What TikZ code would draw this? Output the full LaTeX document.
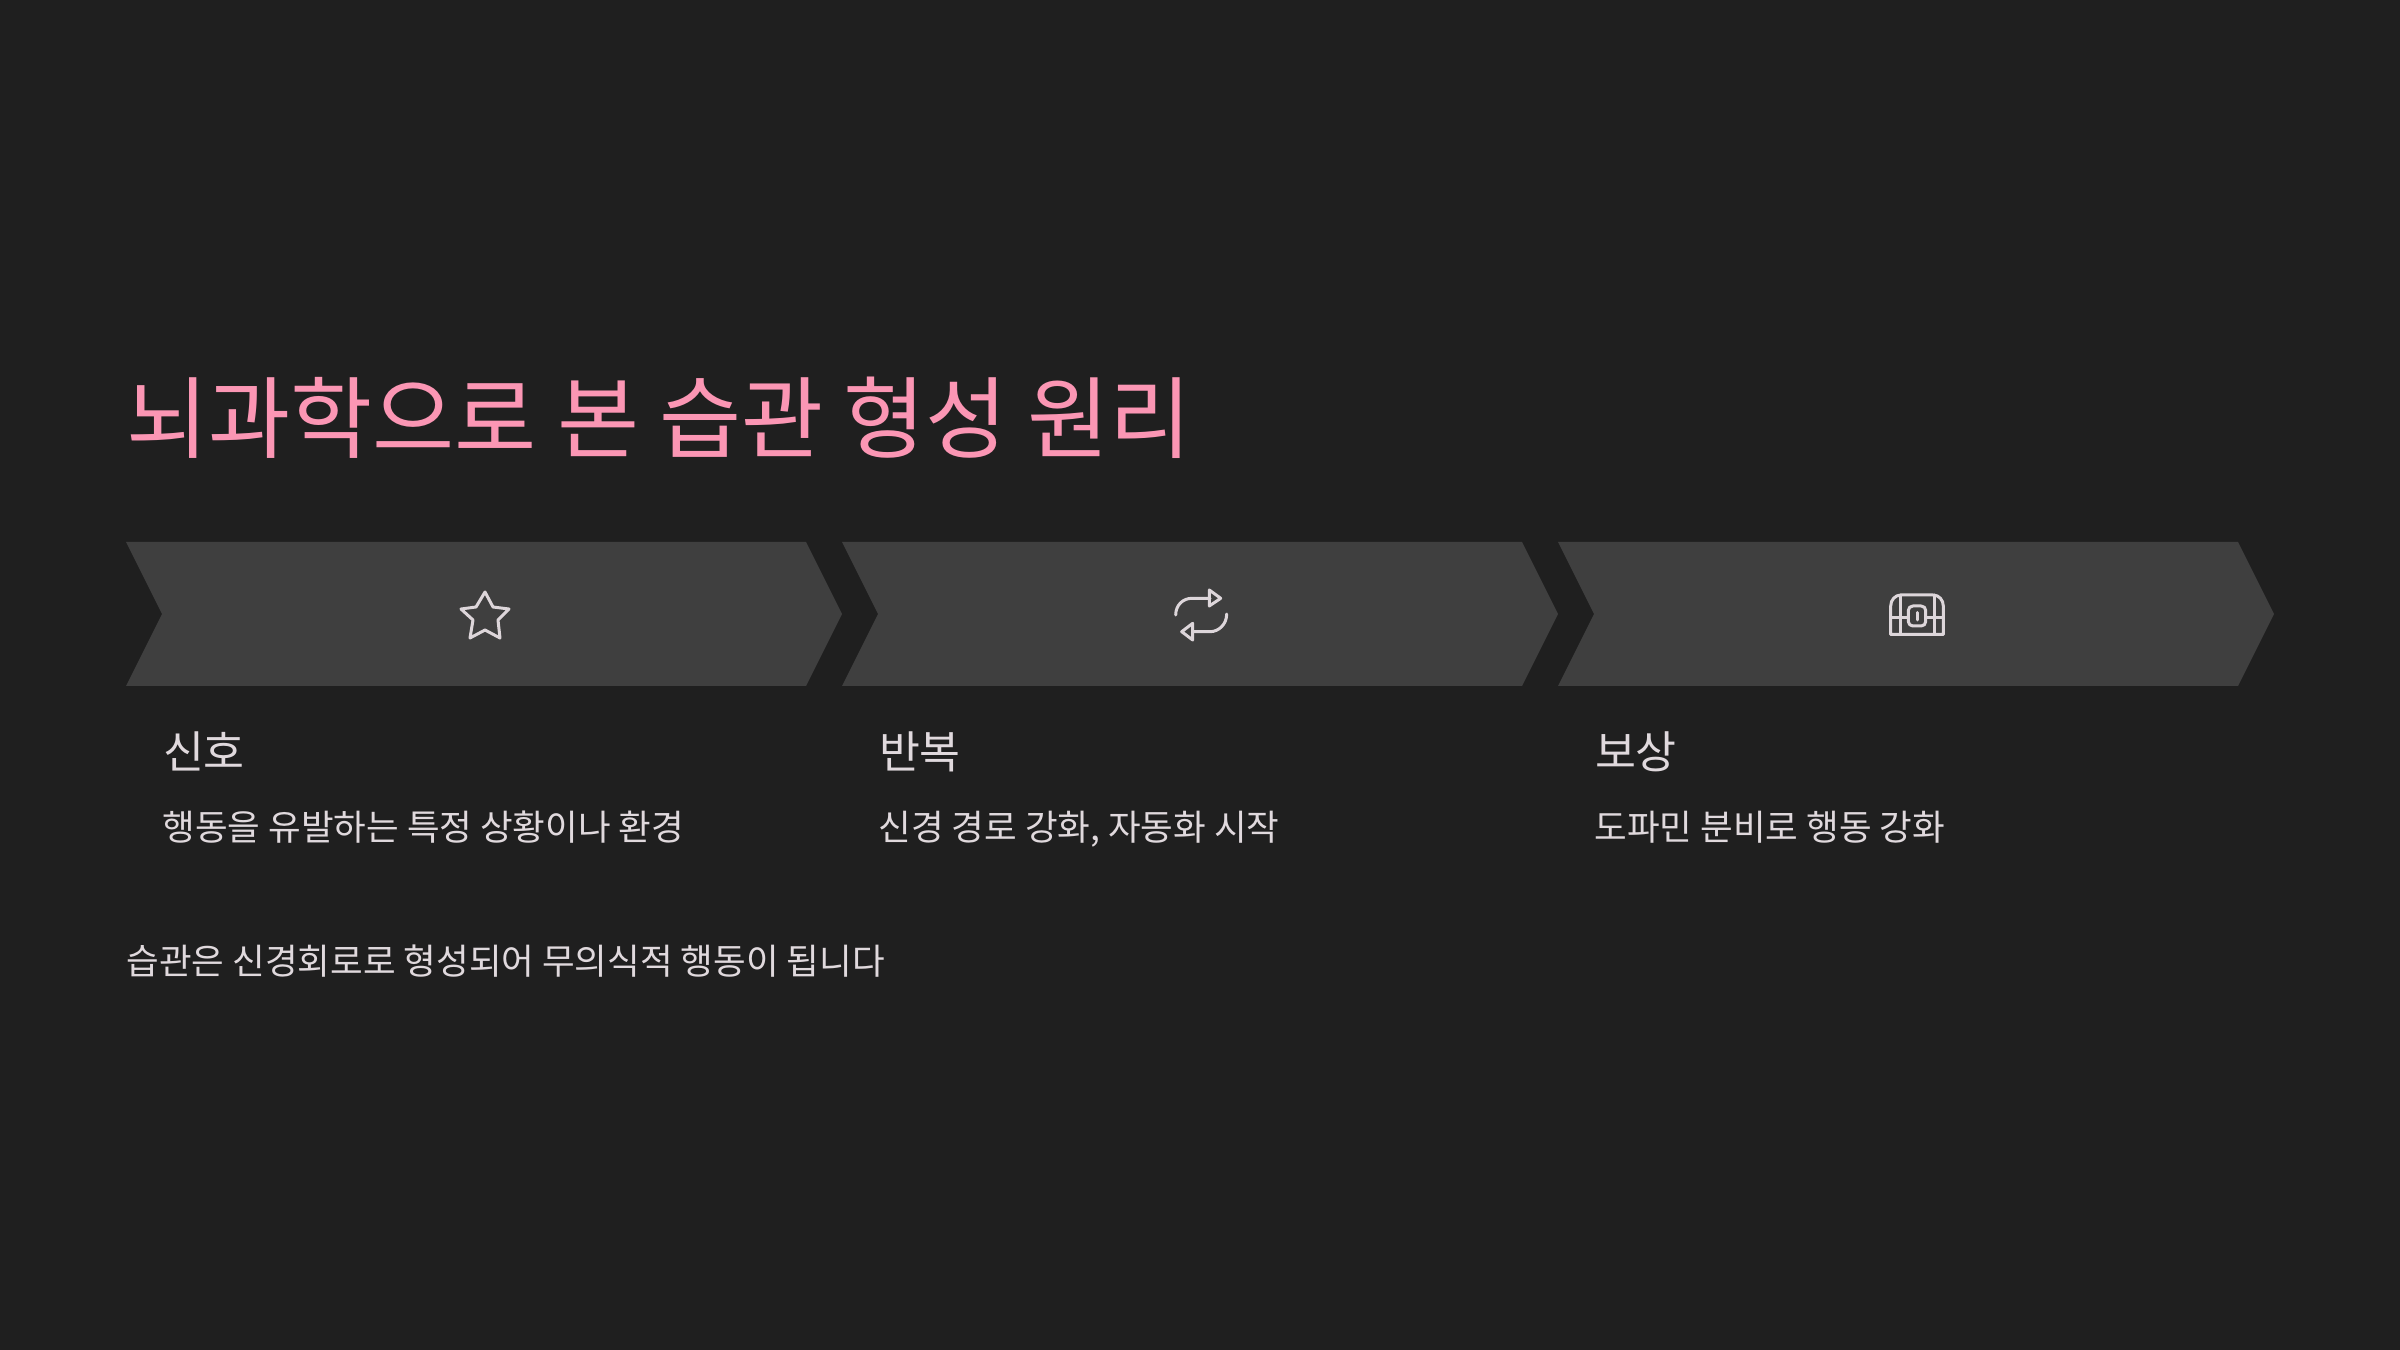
\documentclass[tikz,border=0pt]{standalone}
\usepackage{fontspec}
\setmainfont{Noto Sans CJK KR}

\definecolor{bgdark}{HTML}{1F1F1F}
\definecolor{chevgray}{HTML}{3F3F3F}
\definecolor{titlepink}{HTML}{FB96B4}
\definecolor{bodygray}{HTML}{E0D9DD}
\definecolor{icongray}{HTML}{DDD6DA}

\tikzset{
    titletext/.style={anchor=base west, inner sep=0pt, text=titlepink, font=\fontsize{35.7}{40}\selectfont},
    headtext/.style={anchor=base west, inner sep=0pt, text=bodygray, font=\fontsize{17.8}{22}\selectfont},
    desctext/.style={anchor=base west, inner sep=0pt, text=bodygray, font=\fontsize{14.2}{18}\selectfont},
    iconline/.style={draw=icongray, line width=1.2pt, line join=round, line cap=round},
}

\begin{document}
\begin{tikzpicture}[x=0.4pt, y=-0.4pt]
    % Sizes are in pixels of the 2400x1350 frame, y pointing down.
    \fill[bgdark] (0,0) rectangle (2400,1350);
    \useasboundingbox (0,0) rectangle (2400,1350);

    \foreach \x in {126,842,1558} {
        \fill[chevgray] (\x,542) -- (\x+680,542) -- (\x+716,614) -- (\x+680,686)
            -- (\x,686) -- (\x+36,614) -- cycle;
    }

    \node[titletext] (title) at (126,452) {뇌과학으로 본 습관 형성 원리};

    \node[headtext] (cue) at (162.5,768) {신호};
    \node[headtext] (rep) at (878.5,768) {반복};
    \node[headtext] (rew) at (1594.5,768) {보상};

    \node[desctext] (cuedesc) at (162,840) {행동을 유발하는 특정 상황이나 환경};
    \node[desctext] (repdesc) at (878,840) {신경 경로 강화, 자동화 시작};
    \node[desctext] (rewdesc) at (1594,840) {도파민 분비로 행동 강화};

    \node[desctext] (note) at (126,974) {습관은 신경회로로 형성되어 무의식적 행동이 됩니다};

    % star
    \draw[iconline] (485,592) -- (493,607) -- (509,609) -- (498,620) -- (500,638)
        -- (485,630) -- (470,638) -- (473,620) -- (461,609) -- (476,607) -- cycle;

    % repeat
    \draw[iconline] (1175.7,615) .. controls (1175.7,605) and (1183,598.3) .. (1192,598.3) -- (1210,598.3);
    \draw[iconline] (1209.3,590) -- (1220.7,598.3) -- (1209.3,606) -- cycle;
    \draw[iconline] (1226.7,614) .. controls (1226.7,624) and (1219,631.7) .. (1210,631.7) -- (1193,631.7);
    \draw[iconline] (1192.7,623.3) -- (1181.7,631.7) -- (1192.7,640) -- cycle;

    % chest
    \draw[iconline] (1890.7,634.5) -- (1890.7,606) .. controls (1890.7,600) and (1895,595) .. (1901,595)
        -- (1933,595) .. controls (1939,595) and (1943.3,600) .. (1943.3,606) -- (1943.3,634.5) -- cycle;
    \draw[iconline] (1900.7,595) -- (1900.7,634.5);
    \draw[iconline] (1934,595) -- (1934,634.5);
    \draw[iconline] (1890.7,617.3) -- (1908.3,617.3);
    \draw[iconline] (1925.7,617.3) -- (1943.3,617.3);
    \draw[iconline, rounded corners=1.8pt] (1908.3,606) rectangle (1925.7,626);
    \draw[iconline] (1917,612.5) -- (1917,620);
\end{tikzpicture}
\end{document}
